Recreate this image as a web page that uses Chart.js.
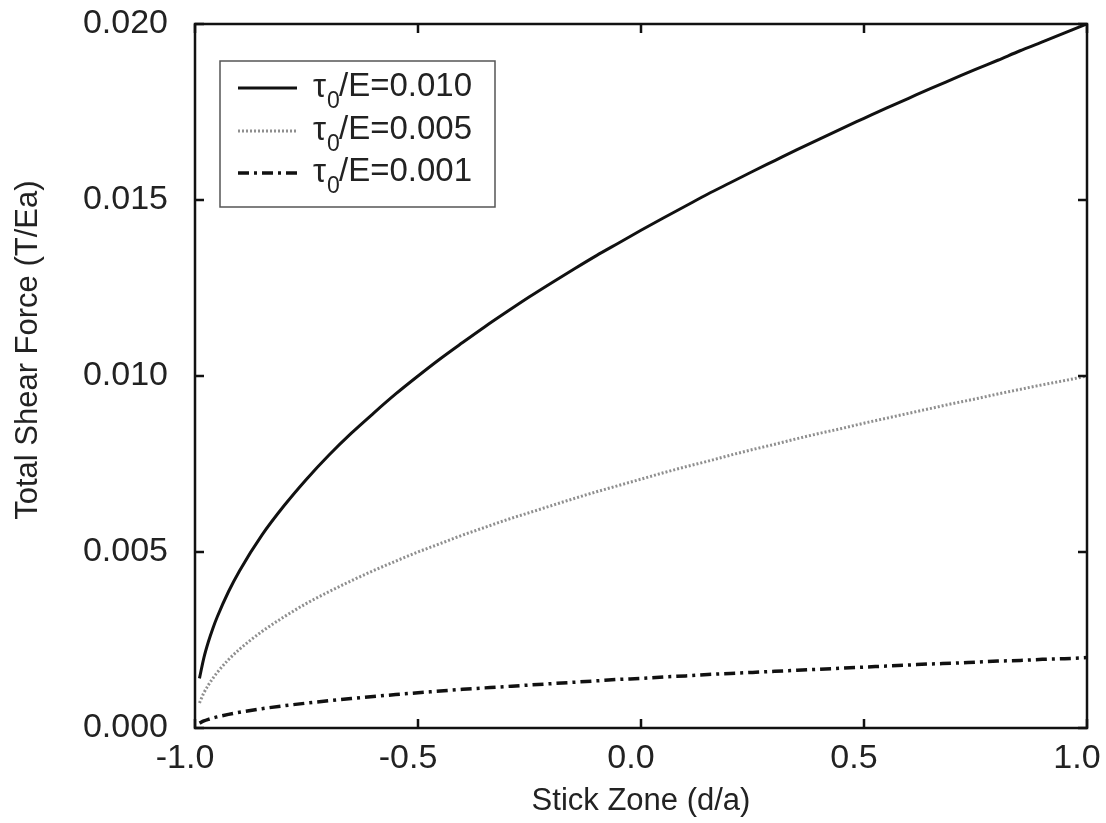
<!DOCTYPE html>
<html>
<head>
<meta charset="utf-8">
<script src="https://cdn.jsdelivr.net/npm/chart.js@4/dist/chart.umd.min.js"></script>
<style>
  html, body { margin: 0; padding: 0; background: #fff; }
  #wrap { width: 1106px; height: 823px; }
</style>
</head>
<body>
<div id="wrap"><canvas id="chart" width="1106" height="823"></canvas></div>
<script>
// stick zone positions (d/a)
const stickZone = [-0.99, -0.98, -0.97, -0.96, -0.95, -0.925, -0.9,
  -0.85, -0.8, -0.75, -0.7, -0.65, -0.6, -0.55, -0.5, -0.45, -0.4, -0.35, -0.3, -0.25, -0.2, -0.15, -0.1, -0.05,
  0, 0.05, 0.1, 0.15, 0.2, 0.25, 0.3, 0.35, 0.4, 0.45, 0.5, 0.55, 0.6, 0.65, 0.7, 0.75, 0.8, 0.85, 0.9, 0.95, 1.0];

// total shear force (T/Ea)
const force010 = [0.00141, 0.00200, 0.00245, 0.00283, 0.00316, 0.00387, 0.00447,
  0.00548, 0.00632, 0.00707, 0.00775, 0.00837, 0.00894, 0.00949, 0.01000, 0.01049, 0.01095, 0.01140, 0.01183, 0.01225,
  0.01265, 0.01304, 0.01342, 0.01378, 0.01414, 0.01449, 0.01483, 0.01517, 0.01549, 0.01581, 0.01612, 0.01643, 0.01673,
  0.01703, 0.01732, 0.01761, 0.01789, 0.01817, 0.01844, 0.01871, 0.01897, 0.01924, 0.01949, 0.01975, 0.02000];
const force005 = [0.00071, 0.00100, 0.00122, 0.00141, 0.00158, 0.00194, 0.00224,
  0.00274, 0.00316, 0.00354, 0.00387, 0.00418, 0.00447, 0.00474, 0.00500, 0.00524, 0.00548, 0.00570, 0.00592, 0.00612,
  0.00632, 0.00652, 0.00671, 0.00689, 0.00707, 0.00725, 0.00742, 0.00758, 0.00775, 0.00791, 0.00806, 0.00822, 0.00837,
  0.00851, 0.00866, 0.00880, 0.00894, 0.00908, 0.00922, 0.00935, 0.00949, 0.00962, 0.00975, 0.00987, 0.01000];
const force001 = [0.000141, 0.000200, 0.000245, 0.000283, 0.000316, 0.000387, 0.000447,
  0.000548, 0.000632, 0.000707, 0.000775, 0.000837, 0.000894, 0.000949, 0.00100, 0.00105, 0.00110, 0.00114, 0.00118, 0.00122,
  0.00126, 0.00130, 0.00134, 0.00138, 0.00141, 0.00145, 0.00148, 0.00152, 0.00155, 0.00158, 0.00161, 0.00164, 0.00167,
  0.00170, 0.00173, 0.00176, 0.00179, 0.00182, 0.00184, 0.00187, 0.00190, 0.00192, 0.00195, 0.00197, 0.00200];

const seriesNames = ['0.010', '0.005', '0.001'];
const xTicks = [-1.0, -0.5, 0.0, 0.5, 1.0];
const yTicks = [0.000, 0.005, 0.010, 0.015, 0.020];

const FONT = '"Liberation Sans", Arial, sans-serif';

const toPoints = ys => stickZone.map((x, i) => ({ x: x, y: ys[i] }));

const styles = [
  { color: '#111', width: 3, dash: [] },
  { color: '#8f8f8f', width: 3, dash: [2, 2] },
  { color: '#111', width: 3.5, dash: [11, 5, 3, 5] }
];

// frame, inward ticks and the legend box
const framePlugin = {
  id: 'frame',
  afterDraw(chart) {
    const ctx = chart.ctx;
    const a = chart.chartArea;
    const xs = chart.scales.x;
    const ys = chart.scales.y;
    ctx.save();
    ctx.strokeStyle = '#111';
    ctx.lineWidth = 2.5;
    ctx.strokeRect(a.left, a.top, a.right - a.left, a.bottom - a.top);
    ctx.beginPath();
    xTicks.forEach(v => {
      const px = xs.getPixelForValue(v);
      ctx.moveTo(px, a.bottom); ctx.lineTo(px, a.bottom - 9);
      ctx.moveTo(px, a.top); ctx.lineTo(px, a.top + 9);
    });
    yTicks.forEach(v => {
      const py = ys.getPixelForValue(v);
      ctx.moveTo(a.left, py); ctx.lineTo(a.left + 9, py);
      ctx.moveTo(a.right, py); ctx.lineTo(a.right - 9, py);
    });
    ctx.stroke();

    // legend
    ctx.fillStyle = '#fff';
    ctx.fillRect(220, 61, 275, 146);
    ctx.strokeStyle = '#555';
    ctx.lineWidth = 1.5;
    ctx.strokeRect(220, 61, 275, 146);
    const rows = [87, 130, 172];
    rows.forEach((ty, i) => {
      const s = styles[i];
      ctx.strokeStyle = s.color;
      ctx.lineWidth = s.width;
      ctx.setLineDash(s.dash);
      ctx.beginPath();
      ctx.moveTo(238, ty + 1);
      ctx.lineTo(297, ty + 1);
      ctx.stroke();
      ctx.setLineDash([]);
      ctx.fillStyle = '#222';
      ctx.textBaseline = 'middle';
      ctx.textAlign = 'left';
      ctx.font = '33px ' + FONT;
      ctx.fillText('τ', 313, ty + 1);
      ctx.font = '23px ' + FONT;
      ctx.fillText('0', 327, ty + 15);
      ctx.font = '33px ' + FONT;
      ctx.fillText('/E=' + seriesNames[i], 339, ty);
    });
    ctx.restore();
  }
};

new Chart(document.getElementById('chart'), {
  type: 'line',
  data: {
    datasets: [force010, force005, force001].map((ys, i) => ({
      label: 'τ0/E=' + seriesNames[i],
      data: toPoints(ys),
      borderColor: styles[i].color,
      borderWidth: styles[i].width,
      borderDash: styles[i].dash,
      pointRadius: 0,
      fill: false,
      cubicInterpolationMode: 'monotone'
    }))
  },
  options: {
    responsive: false,
    animation: false,
    layout: { padding: { top: 24, right: 19, bottom: 0, left: 0 } },
    plugins: { legend: { display: false }, tooltip: { enabled: false } },
    scales: {
      x: {
        type: 'linear',
        min: -1, max: 1,
        grid: { display: false, drawTicks: false },
        border: { display: false },
        afterBuildTicks: s => { s.ticks = xTicks.map(v => ({ value: v })); },
        afterFit: s => { s.height = 95; s.paddingLeft = 0; s.paddingRight = 0; },
        ticks: {
          color: '#222',
          font: { family: FONT, size: 34 },
          padding: 10,
          labelOffset: -10,
          callback: v => v.toFixed(1)
        },
        title: {
          display: true,
          text: 'Stick Zone (d/a)',
          color: '#222',
          font: { family: FONT, size: 31 },
          padding: { top: 0, bottom: 3 }
        }
      },
      y: {
        min: 0, max: 0.02,
        grid: { display: false, drawTicks: false },
        border: { display: false },
        afterBuildTicks: s => { s.ticks = yTicks.map(v => ({ value: v })); },
        afterFit: s => { s.width = 195; s.paddingTop = 0; s.paddingBottom = 0; },
        ticks: {
          color: '#222',
          font: { family: FONT, size: 34 },
          padding: 27,
          callback: v => v.toFixed(3)
        },
        title: {
          display: true,
          text: '      Total Shear Force (T/Ea)',
          color: '#222',
          font: { family: FONT, size: 31 },
          padding: { top: 10, bottom: 0 }
        }
      }
    }
  },
  plugins: [framePlugin]
});
</script>
</body>
</html>
